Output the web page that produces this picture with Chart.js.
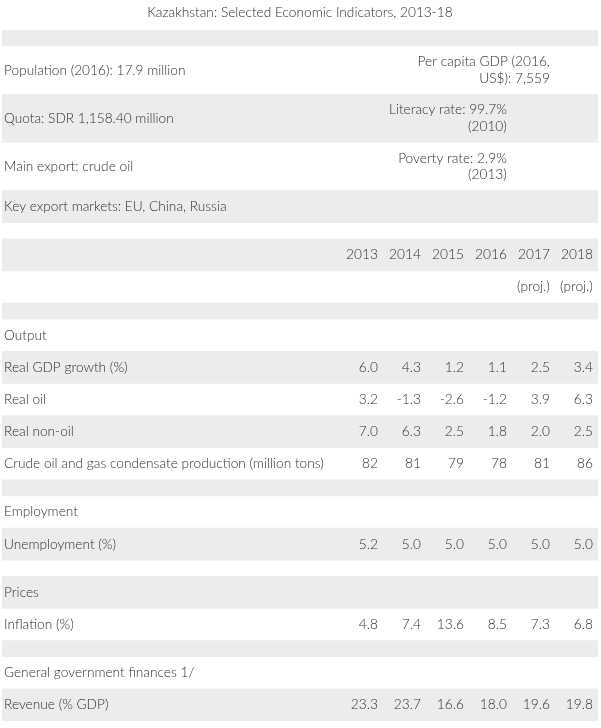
<!DOCTYPE html>
<html>
<head>
<meta charset="utf-8">
<script src="https://cdn.jsdelivr.net/npm/chart.js@4/dist/chart.umd.min.js"></script>
<style>
  html, body { margin: 0; padding: 0; background: #fff; }
  #wrap { width: 601px; height: 728px; }
</style>
</head>
<body>
<div id="wrap"><canvas id="table"></canvas></div>
<script>
// table content
const years = [2013, 2014, 2015, 2016, 2017, 2018];
const yearNotes = ['', '', '', '', '(proj.)', '(proj.)'];

// row labels, height in half-row units
const rowLabels = [
    '', 'Population (2016): 17.9 million', 'Quota: SDR 1,158.40 million', 'Main export: crude oil',
    'Key export markets: EU, China, Russia', '', '', '', '',
    'Output', 'Real GDP growth (%)', 'Real oil', 'Real non-oil',
    'Crude oil and gas condensate production (million tons)', '',
    'Employment', 'Unemployment (%)', '', 'Prices', 'Inflation (%)', '',
    'General government finances 1/', 'Revenue (% GDP)'
];
const rowUnits = [1, 3, 3, 3, 2, 1, 2, 2, 1, 2, 2, 2, 2, 2, 1, 2, 2, 1, 2, 2, 1, 2, 2];

// right hand notes in the top block: [row, column year, lines]
const sideNotes = [
    [1, 2017, ['Per capita GDP (2016,', 'US$): 7,559']],
    [2, 2016, ['Literacy rate: 99.7%', '(2010)']],
    [3, 2016, ['Poverty rate: 2.9%', '(2013)']]
];

const realGdp = ['6.0', '4.3', '1.2', '1.1', '2.5', '3.4'];
const realOil = ['3.2', '-1.3', '-2.6', '-1.2', '3.9', '6.3'];
const realNonOil = ['7.0', '6.3', '2.5', '1.8', '2.0', '2.5'];
const crudeOil = ['82', '81', '79', '78', '81', '86'];
const unemployment = ['5.2', '5.0', '5.0', '5.0', '5.0', '5.0'];
const inflation = ['4.8', '7.4', '13.6', '8.5', '7.3', '6.8'];
const revenue = ['23.3', '23.7', '16.6', '18.0', '19.6', '19.8'];

// which row gets which numbers
const rowValues = {
    6: years.map(String),
    7: yearNotes,
    10: realGdp,
    11: realOil,
    12: realNonOil,
    13: crudeOil,
    16: unemployment,
    19: inflation,
    22: revenue
};

const FONT = '300 13.7px Lato';
const INK = '#2e2e2e';
const SHADE = '#ececec';

// row start positions (in units)
const rowStart = [];
let acc = 0;
rowUnits.forEach(u => { rowStart.push(acc); acc += u; });
const totalUnits = acc;

// every other row is shaded, starting with the first
const stripes = rowLabels.map((lbl, i) => ({
    label: 'row' + i,
    data: [i % 2 === 0 ? [rowStart[i], rowStart[i] + rowUnits[i]] : null],
    backgroundColor: SHADE,
    borderWidth: 0,
    borderSkipped: false,
    barPercentage: 1,
    categoryPercentage: 1,
    grouped: false
}));

const tableText = {
    id: 'tableText',
    afterDatasetsDraw(chart) {
        const ctx = chart.ctx;
        const y = chart.scales.y;
        const cols = chart.scales.cols;
        const left = chart.chartArea.left + 2;
        ctx.save();
        ctx.font = FONT;
        ctx.fillStyle = INK;
        ctx.textBaseline = 'middle';

        rowLabels.forEach((lbl, i) => {
            const cy = y.getPixelForValue(rowStart[i] + rowUnits[i] / 2);
            if (lbl) {
                ctx.textAlign = 'left';
                ctx.fillText(lbl, left, cy);
            }
            const vals = rowValues[i];
            if (vals) {
                ctx.textAlign = 'right';
                vals.forEach((v, j) => {
                    if (v) ctx.fillText(v, cols.getPixelForValue(years[j]), cy);
                });
            }
        });

        sideNotes.forEach(([row, col, lines]) => {
            const cy = y.getPixelForValue(rowStart[row] + rowUnits[row] / 2);
            const step = 16.5;
            ctx.textAlign = 'right';
            lines.forEach((line, k) => {
                ctx.fillText(line, cols.getPixelForValue(col), cy + (k - (lines.length - 1) / 2) * step);
            });
        });
        ctx.restore();
    }
};

new Chart(
    document.getElementById('table'),
    {
        type: 'bar',
        data: {
            labels: ['table'],
            datasets: stripes
        },
        plugins: [tableText],
        options: {
            responsive: true,
            maintainAspectRatio: false,
            animation: false,
            layout: {
                padding: { left: 2, right: 3, bottom: 7 }
            },
            plugins: {
                legend: { display: false },
                tooltip: { enabled: false },
                title: {
                    display: true,
                    text: 'Kazakhstan: Selected Economic Indicators, 2013-18',
                    color: INK,
                    font: { family: 'Lato', size: 13.7, weight: 300 },
                    padding: { top: 4.5, bottom: 9 }
                }
            },
            scales: {
                x: { display: false },
                cols: {
                    type: 'linear',
                    position: 'top',
                    display: false,
                    offset: false,
                    bounds: 'data',
                    min: 2004.26,
                    max: 2018.12
                },
                y: {
                    display: false,
                    reverse: true,
                    min: 0,
                    max: totalUnits
                }
            }
        }
    }
);
</script>
</body>
</html>
